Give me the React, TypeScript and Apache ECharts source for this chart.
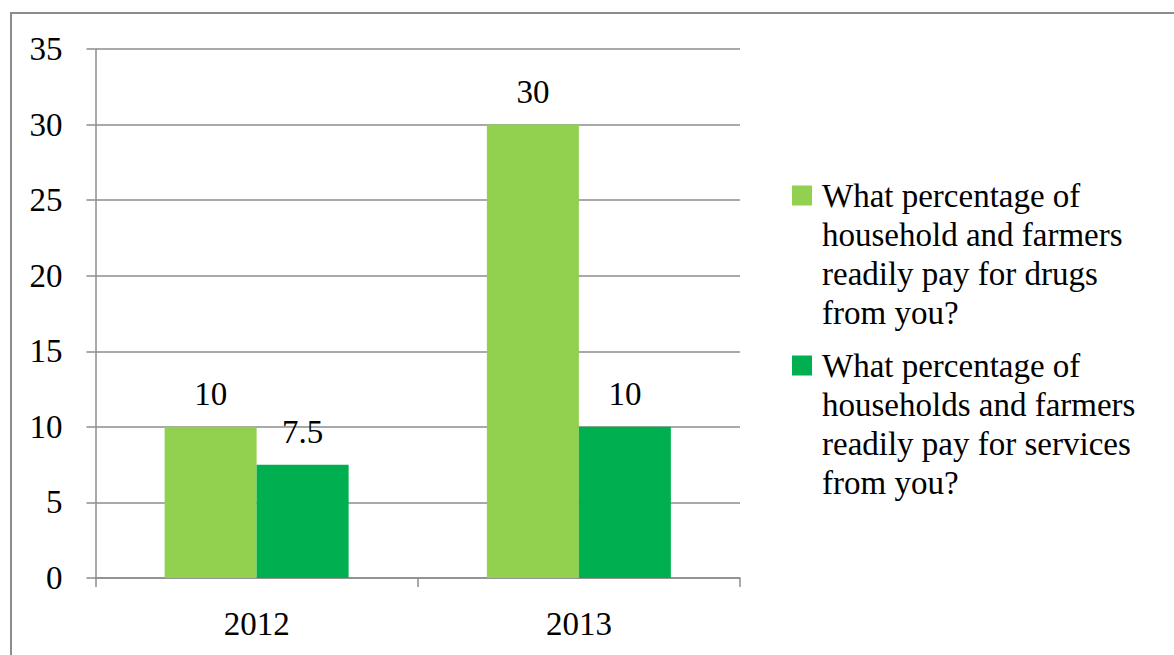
import React, { useEffect, useRef } from "react";
import * as echarts from "echarts";

const categories = ["2012", "2013"];
const drugsValues = [10, 30];
const servicesValues = [7.5, 10];
const seriesNames = [
  "What percentage of household and farmers readily pay for drugs from you?",
  "What percentage of households and farmers readily pay for services from you?",
];
const legendLines: Record<string, string[]> = {
  [seriesNames[0]]: ["What percentage of", "household and farmers", "readily pay for drugs", "from you?"],
  [seriesNames[1]]: ["What percentage of", "households and farmers", "readily pay for services", "from you?"],
};
const colors = ["#92d050", "#00b050"];

const FONT = "'Liberation Serif', 'Times New Roman', serif";
const GRAY = "#8c8c8c";

export default function App() {
  const ref = useRef<HTMLDivElement>(null);
  useEffect(() => {
    if (!ref.current) return;
    const chart = echarts.init(ref.current, null, { renderer: "svg" });
    const fs = 33;
    chart.setOption({
      animation: false,
      backgroundColor: "#fff",
      textStyle: { fontFamily: FONT, color: "#000" },
      graphic: [
        {
          type: "rect",
          shape: { x: 11, y: 13, width: 1300, height: 800 },
          style: { fill: "none", stroke: GRAY, lineWidth: 2 },
          silent: true,
          z: -10,
        },
      ],
      grid: { left: 95.5, right: 434, top: 49, bottom: 77, containLabel: false },
      legend: {
        orient: "vertical",
        left: 787,
        top: 176,
        padding: 0,
        itemWidth: 0,
        itemHeight: 0,
        itemGap: 14,
        icon: "rect",
        selectedMode: false,
        data: seriesNames,
        formatter: (name: string) => {
          const idx = seriesNames.indexOf(name);
          const lines = legendLines[name];
          return lines
            .map((l, i) => (i === 0 ? `{m${idx}|}{s1|}{t|${l}}` : `{s|}{t|${l}}`))
            .join("\n");
        },
        textStyle: {
          fontFamily: FONT,
          fontSize: fs,
          color: "#000",
          lineHeight: 39,
          rich: {
            t: { fontFamily: FONT, fontSize: fs, color: "#000", lineHeight: 39 },
            m0: { width: 20, height: 20, backgroundColor: colors[0] },
            m1: { width: 20, height: 20, backgroundColor: colors[1] },
            s1: { width: 10 },
            s: { width: 30 },
          },
        },
      },
      xAxis: {
        type: "category",
        data: categories,
        axisLine: { show: true, lineStyle: { color: GRAY, width: 1.5 } },
        axisTick: { show: true, length: 9, lineStyle: { color: GRAY, width: 1.5 } },
        axisLabel: { fontFamily: FONT, fontSize: fs, color: "#000", margin: 29 },
      },
      yAxis: {
        type: "value",
        min: 0,
        max: 35,
        interval: 5,
        axisLine: { show: true, lineStyle: { color: GRAY, width: 1.5 } },
        axisTick: { show: true, length: 9, lineStyle: { color: GRAY, width: 1.5 } },
        splitLine: { show: true, lineStyle: { color: GRAY, width: 1.5 } },
        axisLabel: { fontFamily: FONT, fontSize: fs, color: "#000", margin: 33 },
      },
      series: [
        {
          name: seriesNames[0],
          type: "bar",
          data: drugsValues,
          barWidth: 92,
          barGap: "0%",
          itemStyle: { color: colors[0] },
          label: { show: true, position: "top", distance: 16, fontFamily: FONT, fontSize: fs, color: "#000" },
        },
        {
          name: seriesNames[1],
          type: "bar",
          data: servicesValues,
          barWidth: 92,
          barGap: "0%",
          itemStyle: { color: colors[1] },
          label: { show: true, position: "top", distance: 16, fontFamily: FONT, fontSize: fs, color: "#000" },
        },
      ],
    });
    return () => chart.dispose();
  }, []);
  return (
    <div
      ref={ref}
      style={{ position: "absolute", left: 0, top: 0, width: 1174, height: 655 }}
    />
  );
}
